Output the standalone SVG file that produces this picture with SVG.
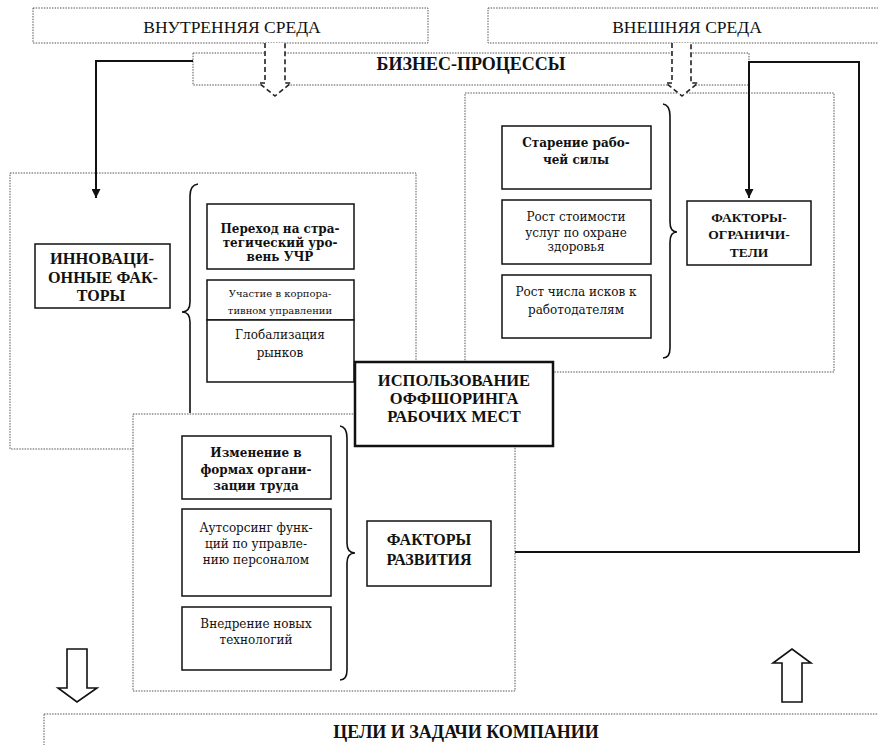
<svg xmlns="http://www.w3.org/2000/svg" width="878" height="745" viewBox="0 0 878 745">
  <defs>
    <marker id="arrowSolid" viewBox="0 0 10 10" refX="10" refY="5" markerWidth="9" markerHeight="9" markerUnits="userSpaceOnUse" orient="auto">
      <path d="M0,0 L10,5 L0,10 Z" fill="#111"/>
    </marker>
    <style>
      .dotbox { fill: #fff; stroke: #555; stroke-width: 1; stroke-dasharray: 1.5 1.2; }
      .box { fill: #fff; stroke: #111; stroke-width: 1.5; }
      .mainbox { fill: #fff; stroke: #111; stroke-width: 2.5; }
      .brace { fill: none; stroke: #111; stroke-width: 1.6; }
      .conn { fill: none; stroke: #111; stroke-width: 2; }
      .dasharrow { fill: #fff; stroke: #222; stroke-width: 1.6; stroke-dasharray: 5 3; }
      .blockarrow { fill: #fff; stroke: #111; stroke-width: 1.6; stroke-linejoin: miter; }
      text { font-family: "Liberation Serif", "Times New Roman", serif; fill: #111; text-anchor: middle; }
      .env { font-size: 17.5px; }
      .hdr { font-size: 16.5px; font-weight: bold; }
      .big { font-size: 18px; font-weight: bold; }
      .fac { font-size: 16px; font-weight: bold; }
      .facs { font-size: 13.5px; font-weight: bold; }
      .tb { font-family: "DejaVu Serif", "Liberation Serif", serif; font-size: 12px; font-weight: bold; }
      .tn { font-family: "DejaVu Serif", "Liberation Serif", serif; font-size: 12px; }
      .ts { font-family: "DejaVu Serif", "Liberation Serif", serif; font-size: 10px; }
    </style>
  </defs>

  <!-- environment headers -->
  <g id="internal-env">
    <rect class="dotbox" x="33" y="8" width="395" height="35"/>
    <text class="env" x="232" y="33">ВНУТРЕННЯЯ СРЕДА</text>
  </g>
  <g id="external-env">
    <rect class="dotbox" x="488" y="8" width="400" height="35"/>
    <text class="env" x="687" y="33">ВНЕШНЯЯ СРЕДА</text>
  </g>

  <!-- business processes -->
  <g id="business-processes">
    <rect class="dotbox" x="193" y="53" width="556" height="32"/>
    <text class="big" x="471" y="70">БИЗНЕС-ПРОЦЕССЫ</text>
  </g>

  <!-- innovation factors group -->
  <g id="innovation-group">
    <rect class="dotbox" x="10" y="173" width="406" height="276"/>
    <path class="brace" d="M198,184 Q190,185 190,196 L190,302 Q190,312 182,312 Q190,312 190,322 L190,413"/>
  </g>
  <g id="innovation-factors">
    <rect class="box" x="35" y="244" width="135" height="64"/>
    <text class="fac" x="102" y="264" textLength="104" lengthAdjust="spacingAndGlyphs">ИННОВАЦИ-</text>
    <text class="fac" x="103" y="283" textLength="110" lengthAdjust="spacingAndGlyphs">ОННЫЕ ФАК-</text>
    <text class="fac" x="101" y="301">ТОРЫ</text>
  </g>
  <g id="strategic-hrm">
    <rect class="box" x="207" y="204" width="147" height="65"/>
    <text class="tb" x="280" y="233">Переход на стра-</text>
    <text class="tb" x="280" y="247">тегический уро-</text>
    <text class="tb" x="280" y="261">вень УЧР</text>
  </g>
  <g id="corporate-governance">
    <rect class="box" x="207" y="280" width="147" height="40"/>
    <text class="ts" x="280" y="297">Участие в корпора-</text>
    <text class="ts" x="280" y="314">тивном управлении</text>
  </g>
  <g id="globalization">
    <rect class="box" x="207" y="320" width="147" height="62"/>
    <text class="tn" x="280" y="339">Глобализация</text>
    <text class="tn" x="280" y="357">рынков</text>
  </g>

  <!-- limiting factors group -->
  <g id="limiting-group">
    <rect class="dotbox" x="465" y="93" width="369" height="279"/>
    <path class="brace" d="M663,104 Q670,105 670,116 L670,222 Q670,232 677,232 Q670,232 670,242 L670,348 Q670,358 663,358"/>
  </g>
  <g id="aging-workforce">
    <rect class="box" x="502" y="126" width="149" height="63"/>
    <text class="tb" x="576" y="147">Старение рабо-</text>
    <text class="tb" x="576" y="164">чей силы</text>
  </g>
  <g id="healthcare-costs">
    <rect class="box" x="502" y="200" width="149" height="64"/>
    <text class="tn" x="576" y="221">Рост стоимости</text>
    <text class="tn" x="576" y="237">услуг по охране</text>
    <text class="tn" x="576" y="251">здоровья</text>
  </g>
  <g id="employer-claims">
    <rect class="box" x="502" y="275" width="149" height="63"/>
    <text class="tn" x="576" y="296">Рост числа исков к</text>
    <text class="tn" x="576" y="314">работодателям</text>
  </g>
  <g id="limiting-factors">
    <rect class="box" x="687" y="201" width="124" height="64"/>
    <text class="facs" x="749" y="222">ФАКТОРЫ-</text>
    <text class="facs" x="749" y="239">ОГРАНИЧИ-</text>
    <text class="facs" x="749" y="257">ТЕЛИ</text>
  </g>

  <!-- development factors group -->
  <g id="development-group">
    <rect class="dotbox" x="133" y="414" width="382" height="277"/>
    <path class="brace" d="M340,426 Q347,427 347,438 L347,543 Q347,553 355,553 Q347,553 347,563 L347,670 Q347,680 340,680"/>
  </g>
  <g id="work-organization">
    <rect class="box" x="182" y="436" width="149" height="63"/>
    <text class="tb" x="256" y="457">Изменение в</text>
    <text class="tb" x="256" y="474">формах органи-</text>
    <text class="tb" x="256" y="490">зации труда</text>
  </g>
  <g id="hr-outsourcing">
    <rect class="box" x="182" y="509" width="149" height="87"/>
    <text class="tn" x="256" y="532">Аутсорсинг функ-</text>
    <text class="tn" x="256" y="548">ций по управле-</text>
    <text class="tn" x="256" y="564">нию персоналом</text>
  </g>
  <g id="new-technologies">
    <rect class="box" x="182" y="607" width="149" height="63"/>
    <text class="tn" x="256" y="628">Внедрение новых</text>
    <text class="tn" x="256" y="644">технологий</text>
  </g>
  <g id="development-factors">
    <rect class="box" x="367" y="521" width="124" height="65"/>
    <text class="fac" x="429" y="545">ФАКТОРЫ</text>
    <text class="fac" x="429" y="565">РАЗВИТИЯ</text>
  </g>

  <!-- central node -->
  <g id="offshoring">
    <rect class="mainbox" x="355" y="362" width="198" height="84"/>
    <text class="hdr" x="454" y="386">ИСПОЛЬЗОВАНИЕ</text>
    <text class="hdr" x="454" y="404">ОФФШОРИНГА</text>
    <text class="hdr" x="454" y="422">РАБОЧИХ МЕСТ</text>
  </g>

  <!-- company goals -->
  <g id="company-goals">
    <rect class="dotbox" x="44" y="714" width="850" height="50"/>
    <text class="big" x="466" y="738">ЦЕЛИ И ЗАДАЧИ КОМПАНИИ</text>
  </g>

  <!-- connectors -->
  <g id="connectors">
    <polyline class="conn" points="193,61 96,61 96,198" marker-end="url(#arrowSolid)"/>
    <polyline class="conn" points="515,552 859,552 859,62 749,62 749,198" marker-end="url(#arrowSolid)"/>
    <path class="dasharrow" d="M265,43 V83 H259 L275,96 L291,83 H285 V43"/>
    <path class="dasharrow" d="M672,43 V83 H666 L682,96 L698,83 H691 V43"/>
    <path class="blockarrow" d="M67,649 H87 V688 H97 L77,702 L58,688 H67 Z"/>
    <path class="blockarrow" d="M782,702 H802 V663 H811 L792,649 L773,663 H782 Z"/>
  </g>
</svg>
